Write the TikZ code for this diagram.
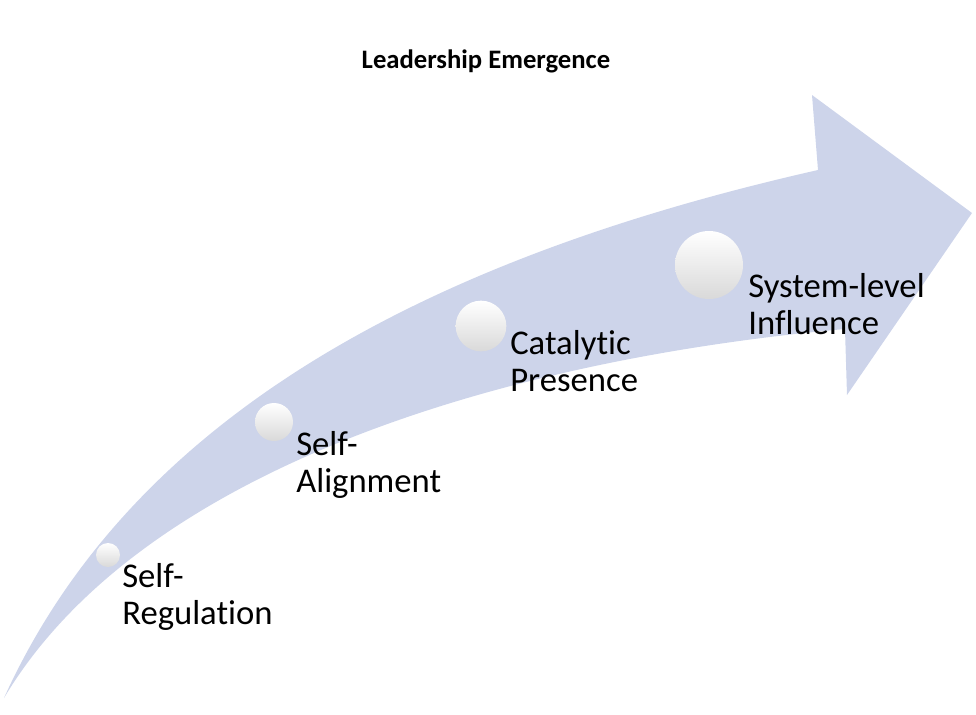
\documentclass[tikz,border=0pt]{standalone}
\usepackage{fontspec}
\setmainfont{Carlito}[Ligatures=CommonOff]
\usepackage{tikz}
\definecolor{arrowblue}{HTML}{CDD4EA}
\definecolor{ballgray}{HTML}{D9D9D9}

\begin{document}
\begin{tikzpicture}[x=0.75pt,y=-0.75pt,every node/.style={inner sep=0pt},
  stage/.style={anchor=base west,text width=6cm,align=left,font=\fontsize{26}{27.75}\selectfont},
  ball/.style={circle,top color=white,middle color=white,bottom color=ballgray}]
  \useasboundingbox (0,0) rectangle (976,715);
  % title
  \node[font=\bfseries\fontsize{20}{24}\selectfont,anchor=base] (title) at (486,68) {Leadership Emergence};
  % curved arrow
  \coordinate (tail) at (4,698);
  \coordinate (neckT) at (818,170);
  \coordinate (barbT) at (812,95);
  \coordinate (tip) at (972,213);
  \coordinate (barbB) at (847,395);
  \coordinate (neckB) at (845,329);
  \fill[arrowblue] (tail) .. controls (130,420) and (420,260) .. (neckT)
    -- (barbT) -- (tip) -- (barbB) -- (neckB)
    .. controls (500,360) and (140,470) .. (tail) -- cycle;
  % stages
  \node[ball,minimum size=18pt] (b1) at (108,555) {};
  \node[ball,minimum size=28.5pt] (b2) at (274,422) {};
  \node[ball,minimum size=38pt] (b3) at (481,326) {};
  \node[ball,minimum size=51pt] (b4) at (709,265) {};
  \node[stage] (s1) at (122,587) {Self-\\Regulation};
  \node[stage] (s2) at (296,455) {Self-\\Alignment};
  \node[stage] (s3) at (510,354) {Catalytic\\Presence};
  \node[stage] (s4) at (748,297) {System-level\\Influence};
\end{tikzpicture}
\end{document}
